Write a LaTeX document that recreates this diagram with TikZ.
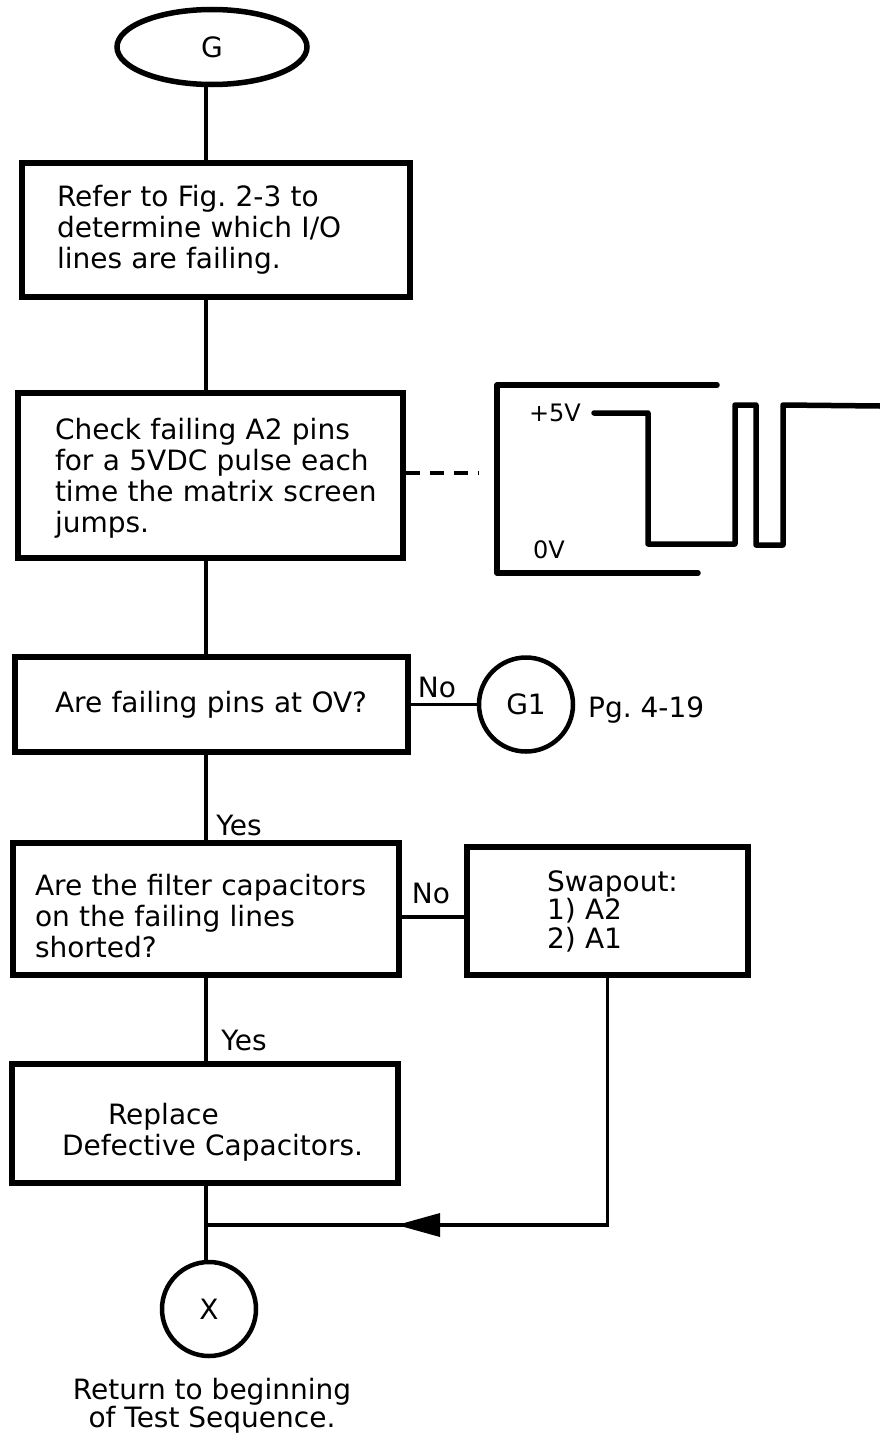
\documentclass[tikz,border=0pt]{standalone}
\usepackage{fontspec}
\setmainfont{DejaVu Sans}
\usetikzlibrary{shapes.geometric}
\newcommand{\nb}[1]{\mbox{#1}}
\frenchspacing
\begin{document}
\begin{tikzpicture}[x=1pt,y=-1pt,
  every node/.style={font=\fontsize{28}{31}\selectfont},
  box/.style={draw,line width=5.5pt,rectangle,align=left,inner ysep=0pt},
  conn/.style={line width=3.5pt},
  lbl/.style={inner sep=0pt},
  circ/.style={draw,circle,line width=4.5pt,minimum size=94pt,inner sep=0pt},
  wave/.style={line width=5.5pt,line join=round,line cap=round}]
\useasboundingbox (0,0) rectangle (880,1437);
\coordinate (cx) at (206,0);
% nodes
\node[draw,ellipse,line width=5.5pt,minimum width=190pt,minimum height=75pt,inner sep=0pt] (G) at (212,47) {G};
\node[box,minimum width=388pt,minimum height=134pt,inner xsep=35pt,text width=318pt] (b1) at (216,230)
  {\nb{Refer to Fig. 2-3 to}\\\nb{determine which I/O}\\\nb{lines are failing.}};
\node[box,minimum width=385pt,minimum height=165pt,inner xsep=37pt,text width=311pt] (b2) at (210.5,475.5)
  {\nb{\rule{0pt}{26pt}Check failing A2 pins}\\\nb{for a 5VDC pulse each}\\\nb{time the matrix screen}\\\nb{jumps.}};
\node[box,minimum width=393pt,minimum height=95pt,inner xsep=40pt,text width=313pt] (b3) at (211.5,704.5)
  {\nb{Are failing pins at OV?}};
\node[circ] (G1) at (526,704.5) {G1};
\node[lbl,anchor=west] (pg) at (588,710) {Pg. 4-19};
\node[box,minimum width=386pt,minimum height=132pt,inner xsep=22pt,text width=342pt] (b4) at (206,909)
  {\nb{\rule{0pt}{35pt}Are the filter capacitors}\\\nb{on the failing lines}\\\nb{shorted?}};
\node[box,minimum width=281pt,minimum height=128pt,inner xsep=80pt,text width=121pt,
  font=\fontsize{28}{28.5}\selectfont] (b5) at (607.5,911)
  {\nb{Swapout:}\\\nb{1) A2}\\\nb{2) A1}};
\node[box,minimum width=386pt,minimum height=119pt,inner xsep=50pt,text width=286pt] (b6) at (205,1123.5)
  {\nb{\rule{0pt}{39pt}\hspace*{46pt}Replace}\\\nb{Defective Capacitors.}};
\node[circ] (X) at (209,1309) {X};
\node[lbl,align=center,font=\fontsize{28}{28.5}\selectfont] (ret) at (212,1406) {Return to beginning\\of Test Sequence.};
% labels
\node[lbl] (no1) at (437,687) {No};
\node[lbl] (no2) at (431,893) {No};
\node[lbl] (yes1) at (239,825) {Yes};
\node[lbl] (yes2) at (244,1040) {Yes};
% connectors
\draw[conn] (G.south -| cx) -- (b1.north -| cx);
\draw[conn] (b1.south -| cx) -- (b2.north -| cx);
\draw[conn] (b2.south -| cx) -- (b3.north -| cx);
\draw[conn] (b3.south -| cx) -- (b4.north -| cx);
\draw[conn] (b4.south -| cx) -- (b6.north -| cx);
\draw[conn] (b6.south -| cx) -- (X.north -| cx);
\draw[conn] (b3.east) -- (G1.west);
\coordinate (ny) at (0,917);
\draw[conn] (b4.east |- ny) -- (b5.west |- ny);
\coordinate (junc) at (cx |- 0,1225);
\draw[conn] (b5.south) |- (junc);
\fill (397,1225) -- (440,1213) -- (440,1237) -- cycle;
% dashed link to waveform
\coordinate (wv) at (478,473);
\draw[line width=4pt,dash pattern=on 14pt off 10pt] (b2.east |- wv) -- (wv);
% waveform frame
\draw[wave] (717,385) -- (497,385) -- (497,573) -- (698,573);
\node[lbl] (p5) at (555,413) {\fontsize{24}{26}\selectfont +5V};
\node[lbl] (z0) at (549,550) {\fontsize{24}{26}\selectfont 0V};
\draw[wave] (594,413) -- (648,413) -- (648,544) -- (735,544) -- (735,405) -- (756,405) -- (756,545) -- (783,545) -- (783,405) -- (880,406);
\end{tikzpicture}
\end{document}
